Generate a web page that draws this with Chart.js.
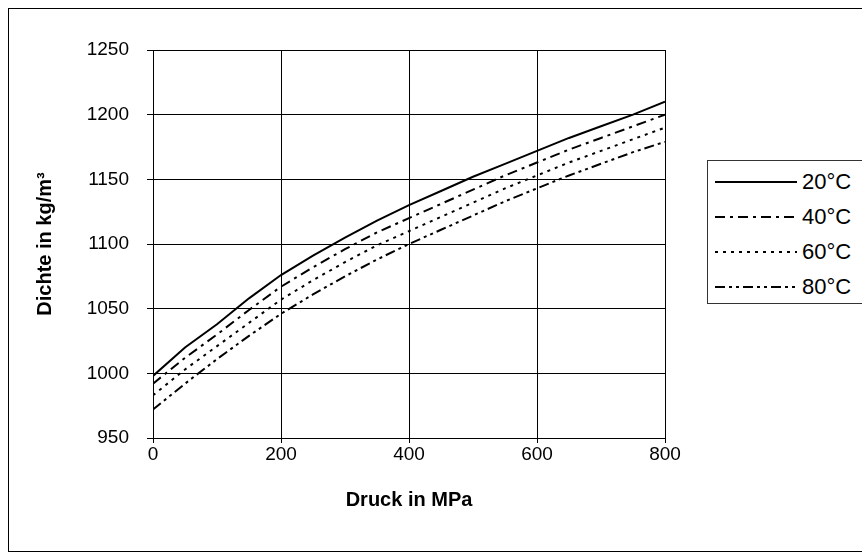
<!DOCTYPE html>
<html>
<head>
<meta charset="utf-8">
<script src="https://cdn.jsdelivr.net/npm/chart.js@4"></script>
<style>
  html, body { margin: 0; padding: 0; background: #fff; }
  #wrap { position: relative; width: 862px; height: 552px; overflow: hidden; }
  #frame { position: absolute; left: 8px; top: 8px; width: 860px; height: 542px; border: 1px solid #000; pointer-events: none; }
  #legend { position: absolute; left: 707px; top: 160px; width: 160px; height: 142px; border: 1px solid #333; background: #fff;
            font-family: "Liberation Sans", Arial, sans-serif; font-size: 22px; color: #000; }
  .row { position: absolute; left: 0; height: 30px; width: 160px; }
  .row svg { position: absolute; left: 7px; top: 0; }
  .row span { position: absolute; left: 94px; top: 2px; }
</style>
</head>
<body>
<div id="wrap">
  <canvas id="chart" width="862" height="552"></canvas>
  <div id="frame"></div>
  <div id="legend"></div>
</div>
<script>
// Druck in MPa
const pressure = [0, 50, 100, 150, 200, 250, 300, 350, 400, 450, 500, 550, 600, 650, 700, 750, 800];
// Dichte in kg/m3
const rho20 = [998, 1020, 1038, 1058, 1076, 1091, 1105, 1118, 1130, 1141, 1152, 1162, 1172, 1182, 1191, 1200, 1210];
const rho40 = [992, 1012, 1030, 1049, 1067, 1082, 1096, 1109, 1120, 1131, 1142, 1153, 1163, 1173, 1182, 1191, 1200];
const rho60 = [983, 1003, 1021, 1039, 1057, 1072, 1086, 1099, 1110, 1121, 1132, 1143, 1153, 1163, 1172, 1181, 1190];
const rho80 = [972, 992, 1011, 1029, 1046, 1061, 1075, 1088, 1100, 1111, 1122, 1133, 1143, 1153, 1162, 1171, 1179];

const labels = ['20°C', '40°C', '60°C', '80°C'];
const dashes = [[], [10, 5, 3, 5], [3, 5], [10, 4, 3, 4, 3, 4]];
const series = [rho20, rho40, rho60, rho80];

const font = { family: '"Liberation Sans", Arial, sans-serif', size: 19 };
const titleFont = { family: font.family, size: 20, weight: 'bold' };

const datasets = series.map((vals, i) => ({
  label: labels[i],
  data: vals.map((v, k) => ({ x: pressure[k], y: v })),
  borderColor: '#000',
  borderWidth: 2,
  borderDash: dashes[i],
  pointRadius: 0,
  fill: false,
  tension: 0
}));

new Chart(document.getElementById('chart'), {
  type: 'line',
  data: { datasets },
  options: {
    responsive: false,
    animation: false,
    layout: { padding: { left: 0, top: 50, right: 197, bottom: 0 } },
    plugins: { legend: { display: false }, tooltip: { enabled: false } },
    scales: {
      x: {
        type: 'linear', min: 0, max: 800,
        ticks: { stepSize: 200, color: '#000', font, padding: 0, callback: v => String(v) },
        grid: { color: '#000', lineWidth: 1, tickLength: 5 },
        border: { color: '#000', width: 1 },
        title: { display: true, text: 'Druck in MPa', color: '#000', font: titleFont, padding: { top: 0, bottom: 40 } },
        afterFit: s => { s.height = 114; }
      },
      y: {
        min: 950, max: 1250,
        ticks: { stepSize: 50, color: '#000', font, padding: 18, callback: v => String(v) },
        grid: { color: '#000', lineWidth: 1, tickLength: 6 },
        border: { color: '#000', width: 1 },
        title: { display: true, text: 'Dichte in kg/m³', color: '#000', font: titleFont, padding: { top: 33, bottom: 0 } },
        afterFit: s => { s.width = 153; }
      }
    }
  }
});

// legend
const leg = document.getElementById('legend');
labels.forEach((t, i) => {
  const row = document.createElement('div');
  row.className = 'row';
  row.style.top = (6 + i * 35) + 'px';
  const dash = dashes[i].length ? dashes[i].join(' ') : 'none';
  row.innerHTML = '<svg width="82" height="30"><line x1="0" y1="15" x2="82" y2="15" stroke="#000" stroke-width="2" stroke-dasharray="' + dash + '"/></svg><span>' + t + '</span>';
  leg.appendChild(row);
});
</script>
</body>
</html>
